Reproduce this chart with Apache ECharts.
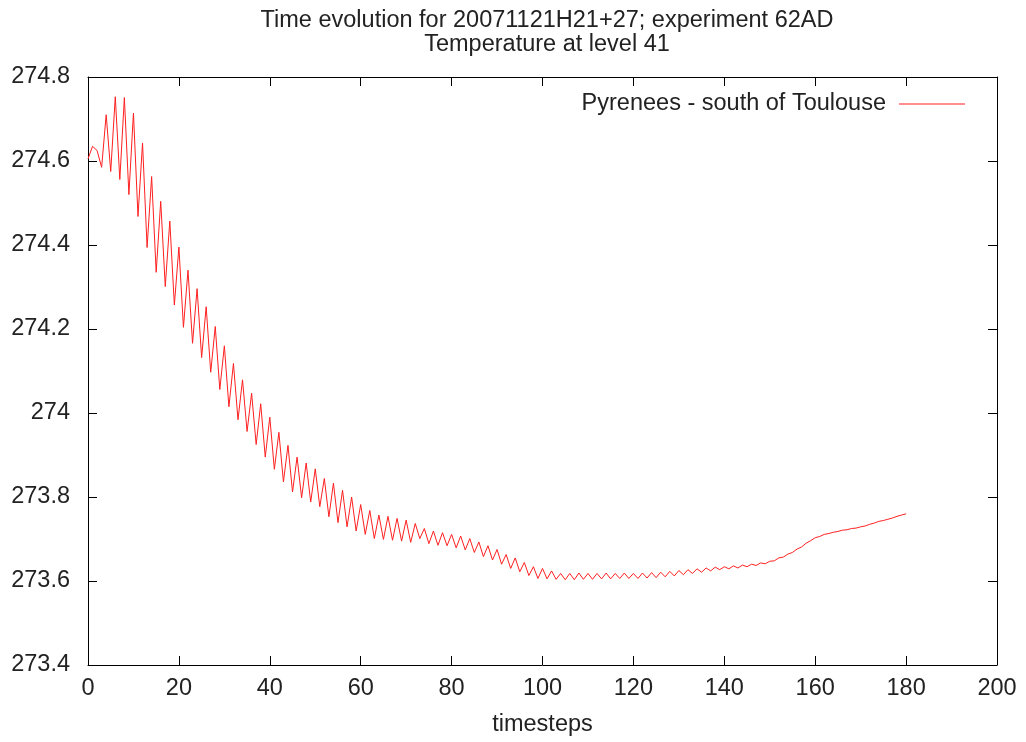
<!DOCTYPE html>
<html>
<head>
<meta charset="utf-8">
<script src="https://cdn.jsdelivr.net/npm/echarts@6/dist/echarts.min.js"></script>
<style>
  html, body { margin: 0; padding: 0; background: #fff; }
  #chart { width: 1026px; height: 742px; }
</style>
</head>
<body>
<div id="chart"></div>
<script>
// temperature, one value per timestep (0..180)
const temperature = [
  274.605, 274.635, 274.625, 274.585, 274.710, 274.575, 274.753, 274.556, 274.751, 274.520,
  274.714, 274.468, 274.643, 274.394, 274.563, 274.335, 274.504, 274.301, 274.457, 274.257,
  274.395, 274.204, 274.340, 274.166, 274.296, 274.132, 274.253, 274.097, 274.206, 274.056,
  274.160, 274.015, 274.118, 273.984, 274.079, 273.956, 274.047, 273.925, 274.022, 273.895,
  273.990, 273.866, 273.954, 273.836, 273.923, 273.812, 273.895, 273.798, 273.881, 273.788,
  273.867, 273.777, 273.844, 273.753, 273.833, 273.739, 273.816, 273.729, 273.800, 273.719,
  273.782, 273.711, 273.768, 273.701, 273.757, 273.699, 273.754, 273.697, 273.749, 273.695,
  273.745, 273.692, 273.737, 273.701, 273.725, 273.689, 273.719, 273.685, 273.715, 273.684,
  273.711, 273.679, 273.707, 273.674, 273.701, 273.668, 273.693, 273.658, 273.684, 273.650,
  273.675, 273.640, 273.663, 273.630, 273.655, 273.622, 273.644, 273.613, 273.634, 273.606,
  273.630, 273.605, 273.624, 273.604, 273.618, 273.603, 273.618, 273.603, 273.619, 273.604,
  273.618, 273.604, 273.618, 273.605, 273.619, 273.605, 273.618, 273.606, 273.619, 273.606,
  273.618, 273.606, 273.619, 273.607, 273.620, 273.608, 273.621, 273.610, 273.623, 273.612,
  273.625, 273.615, 273.627, 273.618, 273.629, 273.621, 273.631, 273.624, 273.633, 273.627,
  273.634, 273.629, 273.636, 273.631, 273.638, 273.634, 273.640, 273.637, 273.643, 273.641,
  273.647, 273.648, 273.655, 273.657, 273.664, 273.668, 273.676, 273.681, 273.690, 273.696,
  273.703, 273.706, 273.711, 273.713, 273.716, 273.718, 273.721, 273.722, 273.725, 273.726,
  273.729, 273.731, 273.735, 273.738, 273.742, 273.744, 273.747, 273.750, 273.754, 273.757,
  273.760
];
const timesteps = temperature.map((_, i) => i);

const titleLines = ['Time evolution for 20071121H21+27; experiment 62AD', 'Temperature at level 41'];
const seriesName = 'Pyrenees - south of Toulouse';
const xName = 'timesteps';

const chart = echarts.init(document.getElementById('chart'));
const font = 'Liberation Sans, Arial, sans-serif';
const txt = '#222';

const inTicks = { show: true, inside: true, length: 9, lineStyle: { color: '#000', width: 1 } };
const frame = { show: true, onZero: false, lineStyle: { color: '#000', width: 1 } };

const option = {
  animation: false,
  backgroundColor: '#fff',
  textStyle: { fontFamily: font },
  title: {
    text: titleLines.join('\n'),
    left: 542,
    top: 4,
    textAlign: 'center',
    textStyle: { fontSize: 23.5, fontWeight: 'normal', color: txt, lineHeight: 24, fontFamily: font }
  },
  legend: {
    top: 87,
    right: 56,
    align: 'right',
    itemWidth: 66,
    itemHeight: 1,
    itemGap: 0,
    icon: 'rect',
    textStyle: { fontSize: 23.5, color: txt, fontFamily: font, padding: [0, 8, 0, 0] },
    data: [seriesName]
  },
  grid: { left: 88, right: 29, top: 77, bottom: 75, containLabel: false },
  xAxis: [
    {
      type: 'value', min: 0, max: 200, interval: 20, position: 'bottom',
      axisLine: frame, axisTick: inTicks, splitLine: { show: false },
      axisLabel: { fontSize: 23.5, color: txt, margin: 12, fontFamily: font },
      name: xName, nameLocation: 'middle', nameGap: 48,
      nameTextStyle: { fontSize: 23.5, color: txt, fontFamily: font }
    },
    {
      type: 'value', min: 0, max: 200, interval: 20, position: 'top',
      axisLine: frame, axisTick: inTicks, splitLine: { show: false },
      axisLabel: { show: false }
    }
  ],
  yAxis: [
    {
      type: 'value', min: 273.4, max: 274.8, interval: 0.2, position: 'left',
      axisLine: frame, axisTick: inTicks, splitLine: { show: false },
      axisLabel: {
        fontSize: 23.5, color: txt, margin: 18, fontFamily: font,
        formatter: v => String(+v.toFixed(1))
      }
    },
    {
      type: 'value', min: 273.4, max: 274.8, interval: 0.2, position: 'right',
      axisLine: frame, axisTick: inTicks, splitLine: { show: false },
      axisLabel: { show: false }
    }
  ],
  series: [
    {
      name: seriesName,
      type: 'line',
      xAxisIndex: 0,
      yAxisIndex: 0,
      data: timesteps.map((t, i) => [t, temperature[i]]),
      showSymbol: false,
      symbol: 'none',
      lineStyle: { color: '#ff2020', width: 1 },
      itemStyle: { color: '#ff2020' }
    }
  ]
};

chart.setOption(option);
</script>
</body>
</html>
